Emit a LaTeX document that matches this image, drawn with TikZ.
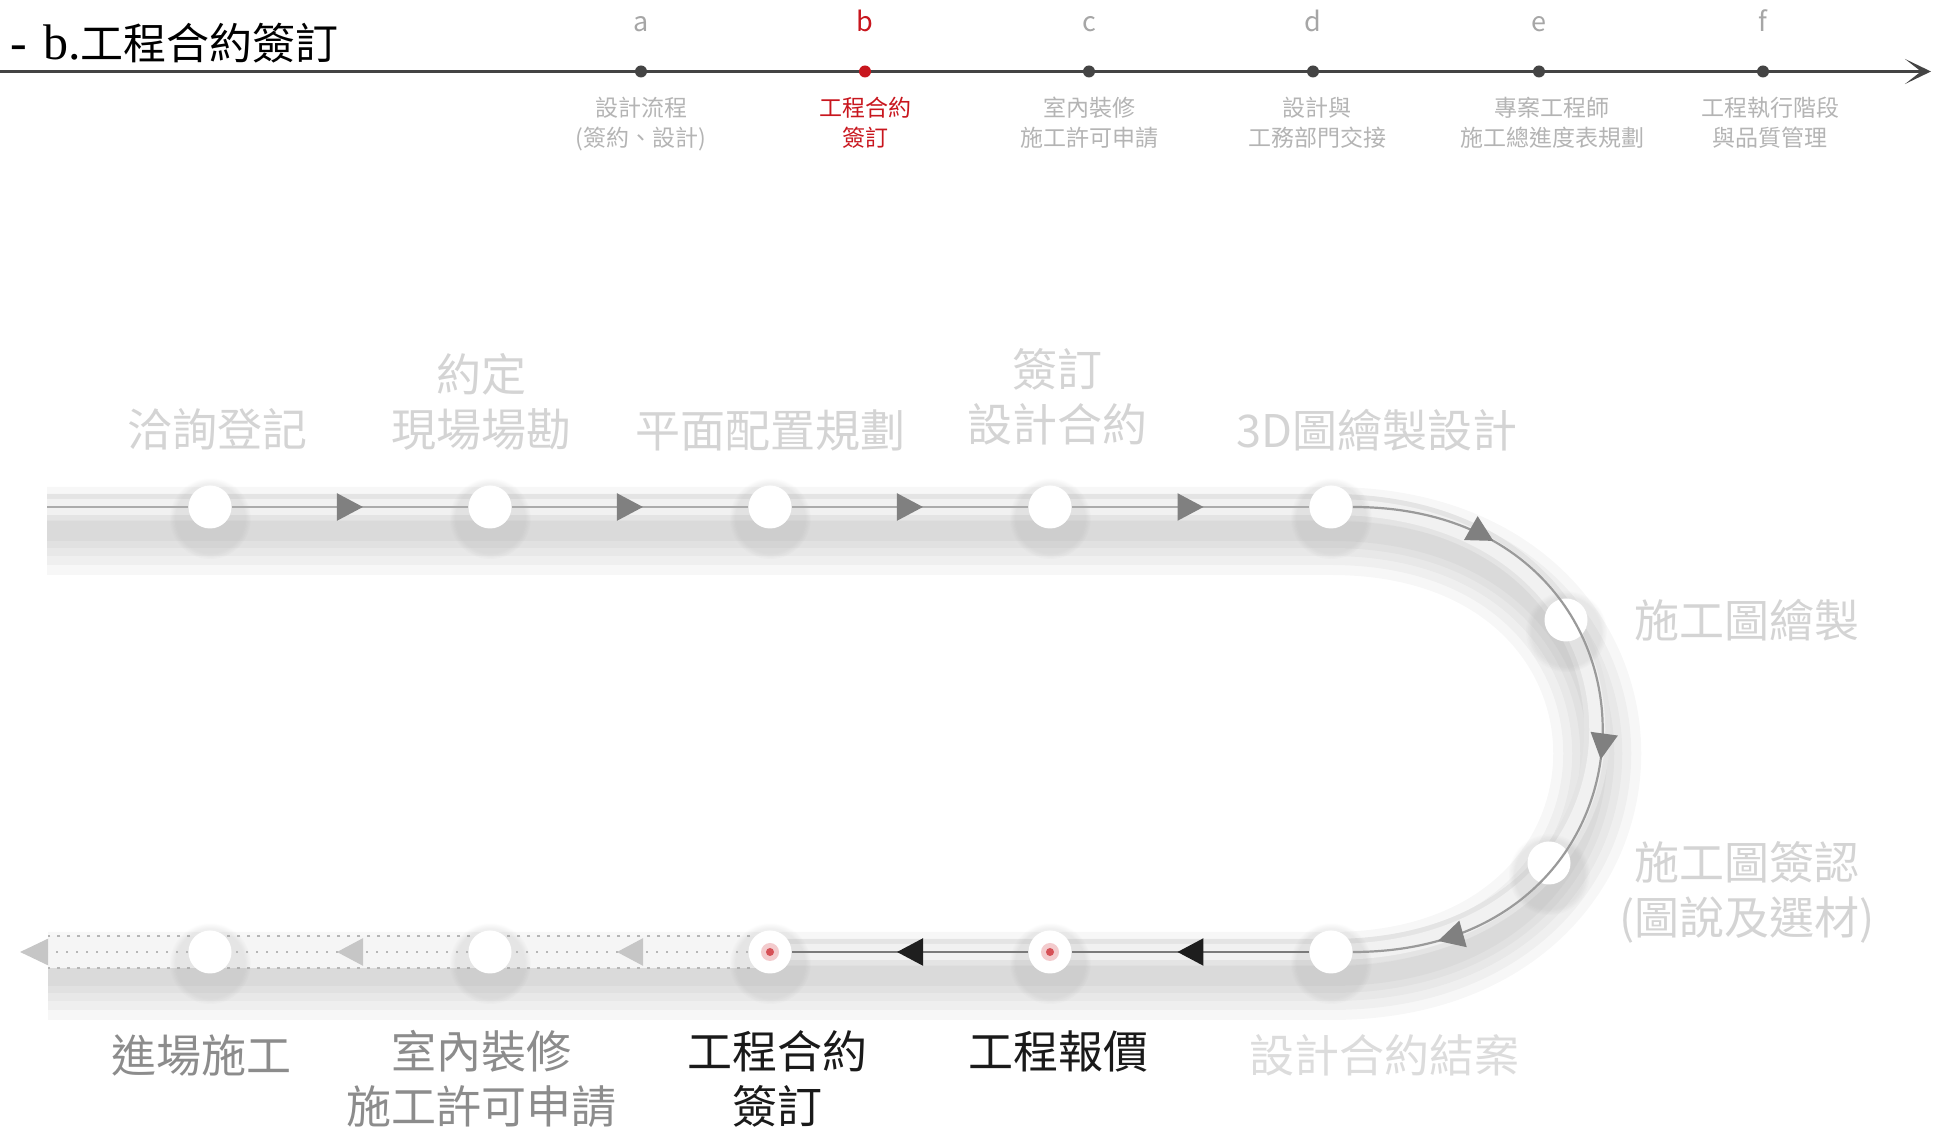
\documentclass[tikz,border=0pt]{standalone}
\usepackage{fontspec}
\setmainfont{Noto Sans CJK TC}
\newfontfamily\serifhead{Liberation Serif}
\usepackage{tikz}
\definecolor{labellight}{HTML}{D4D4D4}
\definecolor{labelfaint}{HTML}{DCDCDC}
\definecolor{labelmid}{HTML}{8C8C8C}
\definecolor{labeldark}{HTML}{1A1A1A}
\definecolor{stepred}{HTML}{C8161E}
\definecolor{axisgray}{HTML}{444444}
\definecolor{subgray}{HTML}{B4B4B4}
\definecolor{lettergray}{HTML}{A6A6A6}
\definecolor{bandouter}{HTML}{E4E4E4}
\definecolor{bandinner}{HTML}{F1F1F1}
\definecolor{linegray}{HTML}{ABABAB}
\definecolor{linedark}{HTML}{7A7A7A}
\definecolor{tipgray}{HTML}{808080}
\definecolor{tipdark}{HTML}{1E1E1E}
\definecolor{tiplight}{HTML}{C6C6C6}
\definecolor{dotgray}{HTML}{B6B6B6}
\usetikzlibrary{
  arrows.meta,
  backgrounds,
  decorations.markings,
  positioning,
  shadows,
}
\newcommand\flowtip[1]{\arrow{Triangle[length=13pt,width=13.5pt,color=#1]}}
\newcommand\trackline{(47,622) -- (1331,622) .. controls (1686,622) and (1686,177) .. (1331,177) -- (48,177)}
\tikzset{
  >=Stealth,
  titletext/.style={anchor=west,inner sep=0pt,font=\fontsize{21.5}{25}\selectfont,text=black},
  axisline/.style={draw=axisgray,line width=1.2pt,-{Stealth[length=13pt,width=12.5pt,inset=8pt]}},
  axisdot/.style={circle,fill=axisgray,minimum size=6pt,inner sep=0pt},
  letter/.style={font=\fontsize{13.5}{15}\selectfont,text=lettergray,inner sep=0pt,text height=9pt,text depth=0pt},
  sublabel/.style={font=\fontsize{11.5}{15}\selectfont,text=subgray,align=center,inner sep=0pt},
  stop/.style={circle,fill=white,minimum size=21.5pt,inner sep=0pt,
    circular drop shadow={shadow scale=1.9,shadow xshift=0pt,shadow yshift=-3pt,opacity=0.13}},
  activestop/.style={stop,path picture={
    \fill[stepred!55,opacity=0.4] (path picture bounding box.center) circle (4.5pt);
    \fill[stepred!75!white] (path picture bounding box.center) circle (2pt);}},
  bigtext/.style={font=\fontsize{22.5}{27.5}\selectfont,align=center,inner sep=0pt},
  trackshadow/.style={draw=black,opacity=0.03},
  bandedge/.style={draw=bandouter,line width=13pt},
  bandcore/.style={draw=bandinner,line width=8pt},
  dotband/.style={draw=white!96!black,line width=16pt},
  dotedge/.style={draw=dotgray,line width=1.3pt,dash pattern=on 1.3pt off 3.7pt},
  link/.style={draw=linegray,line width=1.1pt},
  linkdark/.style={link,draw=linedark},
  dotlink/.style={dotedge},
  tipmid/.style={postaction={decorate,solid,decoration={markings,
    mark=at position 0.555 with {\flowtip{#1}}}}},
  tipcurve/.style={postaction={decorate,decoration={markings,
    mark=at position 0.195 with {\flowtip{tipgray}},
    mark=at position 0.54 with {\flowtip{tipgray}},
    mark=at position 0.885 with {\flowtip{tipgray}}}}},
}

\begin{document}
\begin{tikzpicture}[x=0.5pt,y=0.5pt,node distance=10pt and 10pt]
    \useasboundingbox (0,0) rectangle (1933,1129);

        % header
        \node[titletext] (title) at (10,1086) {{\serifhead\fontsize{25}{28}\selectfont -\hspace{8pt}b.}工程合約簽訂};
        \coordinate (axstart) at (0,1057.5);
        \coordinate (axend) at (1931,1057.5);
        \draw[axisline] (axstart) -- (axend);

        \node[axisdot]    (da) at (641,1057.5)  {};
        \node[axisdot,fill=stepred]    (db) at (865,1057.5)  {};
        \node[axisdot]    (dc) at (1089,1057.5) {};
        \node[axisdot]    (dd) at (1313,1057.5) {};
        \node[axisdot]    (de) at (1539,1057.5) {};
        \node[axisdot]    (df) at (1763,1057.5) {};

        \node[letter]    (la) [above=16.5pt of da]    {a};
        \node[letter,text=stepred]    (lb) [above=16.5pt of db]    {b};
        \node[letter]    (lc) [above=16.5pt of dc]    {c};
        \node[letter]    (ld) [above=16.5pt of dd]    {d};
        \node[letter]    (le) [above=16.5pt of de]    {e};
        \node[letter]    (lf) [above=16.5pt of df]    {f};

        \node[sublabel]    (sa) [below=9.5pt of da]    {設計流程\\(簽約、設計)};
        \node[sublabel,text=stepred]    (sb) [below=9.5pt of db]    {工程合約\\簽訂};
        \node[sublabel]    (sc) [below=9.5pt of dc]    {室內裝修\\施工許可申請};
        \node[sublabel,xshift=2pt]    (sd) [below=9.5pt of dd]    {設計與\\工務部門交接};
        \node[sublabel,xshift=6.5pt]    (se) [below=9.5pt of de]    {專案工程師\\施工總進度表規劃};
        \node[sublabel,xshift=3.5pt]    (sf) [below=9.5pt of df]    {工程執行階段\\與品質管理};

        % track stops
        \coordinate (tstart) at (47,622);
        \coordinate (bend) at (20,177);
        \node[stop]    (t1) at (210,622)  {};
        \node[stop]    (t2) at (490,622)  {};
        \node[stop]    (t3) at (770,622)  {};
        \node[stop]    (t4) at (1050,622) {};
        \node[stop]    (t5) at (1331,622) {};
        \node[stop]    (c1) at (1566,509) {};
        \node[stop]    (c2) at (1549,266) {};
        \node[stop]    (b5) at (1331,177) {};
        \node[activestop]    (b4) at (1050,177) {};
        \node[activestop]    (b3) at (770,177)  {};
        \node[stop]    (b2) at (490,177)  {};
        \node[stop]    (b1) at (210,177)  {};

        % band and its shadow
        \begin{scope}[on background layer]
            \begin{scope}[yshift=-12pt]
                \draw[trackshadow,line width=44pt] \trackline;
                \draw[trackshadow,line width=34pt] \trackline;
                \draw[trackshadow,line width=25pt] \trackline;
                \draw[trackshadow,line width=17pt] \trackline;
                \draw[trackshadow,line width=10pt] \trackline;
            \end{scope}
            \draw[bandedge] \trackline;
            \draw[bandcore] \trackline;
            \draw[dotband] (770,177) -- (48,177);
            \draw[dotedge] (770,193) -- (48,193);
            \draw[dotedge] (770,161) -- (48,161);
        \end{scope}

        \draw[link] (tstart) -- (t1);
        \draw[link,tipmid=tipgray] (t1) -- (t2);
        \draw[link,tipmid=tipgray] (t2) -- (t3);
        \draw[link,tipmid=tipgray] (t3) -- (t4);
        \draw[link,tipmid=tipgray] (t4) -- (t5);
        \draw[link,draw=linegray!90!black,tipcurve] (t5) .. controls (1686,622) and (1686,177) .. (b5);
        \draw[linkdark,tipmid=tipdark] (b5) -- (b4);
        \draw[linkdark,tipmid=tipdark] (b4) -- (b3);
        \draw[dotlink,tipmid=tiplight] (b3) -- (b2);
        \draw[dotlink,tipmid=tiplight] (b2) -- (b1);
        \draw[dotlink,-{Triangle[length=14pt,width=13pt,color=tiplight]}] (b1) -- (bend);

        % labels
        \node[bigtext,text=labellight,xshift=3.5pt]    (l1) [above=17pt of t1]    {洽詢登記};
        \node[bigtext,text=labellight,xshift=-4.5pt]    (l2) [above=17pt of t2]    {約定\\現場場勘};
        \node[bigtext,text=labellight]    (l3) [above=17pt of t3]    {平面配置規劃};
        \node[bigtext,text=labellight,xshift=3.5pt]    (l4) [above=20pt of t4]    {簽訂\\設計合約};
        \node[bigtext,text=labellight,xshift=23pt]    (l5) [above=17pt of t5]    {3D圖繪製設計};
        \node[bigtext,text=labellight]    (r1) [right=23pt of c1]    {施工圖繪製};
        \node[bigtext,text=labellight]    (r2) [below=100pt of r1]    {施工圖簽認\\(圖說及選材)};
        \node[bigtext,text=labelmid,xshift=-4.5pt]    (m1) [below=30pt of b1]    {進場施工};
        \node[bigtext,text=labelmid,xshift=-4.5pt]    (m2) [below=28pt of b2]    {室內裝修\\施工許可申請};
        \node[bigtext,text=labeldark,xshift=3.5pt]    (m3) [below=28pt of b3]    {工程合約\\簽訂};
        \node[bigtext,text=labeldark,xshift=4pt]    (m4) [below=28pt of b4]    {工程報價};
        \node[bigtext,text=labelfaint,xshift=26.5pt]    (m5) [below=30pt of b5]    {設計合約結案};

    \end{tikzpicture}
\end{document}
